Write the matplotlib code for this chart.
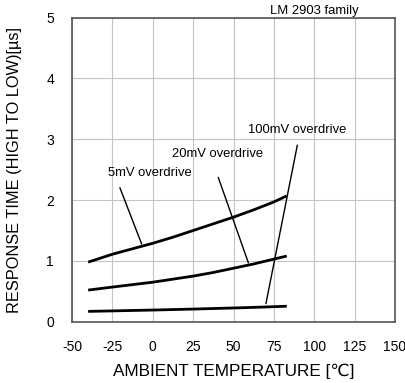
import numpy as np
import matplotlib
matplotlib.use("Agg")
import matplotlib.pyplot as plt

plt.rcParams['font.family'] = ['Liberation Sans', 'DejaVu Sans']
plt.rcParams['axes.unicode_minus'] = False

# ambient temperature [C] and response time [us]
temp = [-40, -25, -12.5, 0, 12.5, 25, 37.5, 50, 62.5, 75, 83]
t_5mv = [0.98, 1.11, 1.20, 1.29, 1.39, 1.50, 1.61, 1.72, 1.84, 1.97, 2.07]
t_20mv = [0.52, 0.57, 0.61, 0.65, 0.70, 0.75, 0.81, 0.88, 0.95, 1.03, 1.08]
t_100mv = [0.17, 0.178, 0.185, 0.192, 0.20, 0.208, 0.217, 0.226, 0.236, 0.247, 0.255]

xticks = [-50, -25, 0, 25, 50, 75, 100, 125, 150]
yticks = [0, 1, 2, 3, 4, 5]

fig = plt.figure(figsize=(4.05, 3.83), dpi=100)
ax = fig.add_axes([0.1778, 0.16, 0.7975, 0.7938])

for ys in (t_5mv, t_20mv, t_100mv):
    ax.plot(temp, ys, color='black', lw=2.0, solid_capstyle='butt')

ax.set_xlim(-50, 150)
ax.set_ylim(0, 5)
ax.set_xticks(xticks)
ax.set_yticks(yticks)
ax.grid(True, color='#c4c4c4', lw=0.8)
ax.tick_params(length=0, labelsize=10, pad=13)
ax.tick_params(axis='x', pad=13)
for s in ax.spines.values():
    s.set_color('#555555')
    s.set_linewidth(1.2)

ax.set_xlabel('AMBIENT TEMPERATURE [℃]', fontsize=12.3, labelpad=7)
ax.set_ylabel('RESPONSE TIME (HIGH TO LOW)[µs]', fontsize=11.8, labelpad=17)

# annotations with leader lines
ax.text(-27.7, 2.45, '5mV overdrive', fontsize=9.4, va='center', ha='left')
ax.plot([-20.3, -6.9], [2.2, 1.28], color='black', lw=1.0)
ax.text(11.7, 2.76, '20mV overdrive', fontsize=9.4, va='center', ha='left')
ax.plot([40.6, 59.2], [2.37, 0.97], color='black', lw=1.0)
ax.text(59, 3.15, '100mV overdrive', fontsize=9.4, va='center', ha='left')
ax.plot([89.5, 70.1], [2.9, 0.30], color='black', lw=1.0)

ax.text(100.3, 5.11, 'LM 2903 family', fontsize=9.4, ha='center', va='center', clip_on=False)

fig.savefig('out.png', dpi=100)
